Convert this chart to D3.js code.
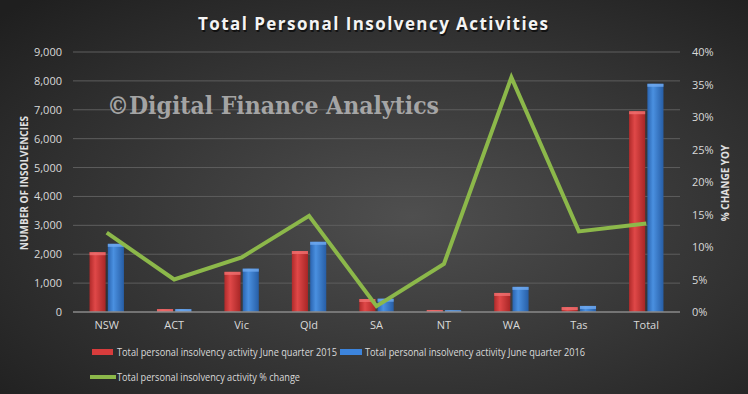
<!DOCTYPE html>
<html><head><meta charset="utf-8">
<script src="https://cdn.jsdelivr.net/npm/d3@7"></script>
<style>html,body{margin:0;padding:0;background:#2a2a2a;}svg{display:block;}</style>
</head><body>
<script>
const categories = ["NSW","ACT","Vic","Qld","SA","NT","WA","Tas","Total"];
const q2015 = [2070, 100, 1390, 2110, 450, 70, 660, 170, 6950];
const q2016 = [2360, 100, 1500, 2430, 460, 60, 870, 210, 7900];
const pctChange = [12.2, 5.0, 8.4, 14.8, 0.9, 7.4, 36.1, 12.4, 13.6];
const leftTicks = [0,1000,2000,3000,4000,5000,6000,7000,8000,9000];
const rightTicks = [0,5,10,15,20,25,30,35,40];
const seriesNames = ["Total personal insolvency activity June quarter 2015","Total personal insolvency activity June quarter 2016","Total personal insolvency activity % change"];

const W=748,H=394;
const svg=d3.select("body").append("svg").attr("width",W).attr("height",H);
const defs=svg.append("defs");
const bg=defs.append("radialGradient").attr("id","bg").attr("cx","55%").attr("cy","55%").attr("r","75%");
bg.append("stop").attr("offset","0%").attr("stop-color","#4f4f4f");
bg.append("stop").attr("offset","100%").attr("stop-color","#1f1f1f");
function barGrad(id,c1,c2,c3){
  const g=defs.append("linearGradient").attr("id",id).attr("x1","0").attr("x2","1").attr("y1","0").attr("y2","0");
  g.append("stop").attr("offset","0%").attr("stop-color",c1);
  g.append("stop").attr("offset","35%").attr("stop-color",c2);
  g.append("stop").attr("offset","100%").attr("stop-color",c3);
}
barGrad("gr","#b02a2a","#e04848","#a82626");
barGrad("gb","#2a64b0","#4a90e0","#275ea6");
svg.append("rect").attr("width",W).attr("height",H).attr("fill","url(#bg)");

const L=73,R=680,T=52,B=312;
const x0=d3.scaleBand().domain(categories).range([L,R]).paddingInner(0.49).paddingOuter(0.245);
const x1=d3.scaleBand().domain([0,1]).range([0,x0.bandwidth()]).paddingInner(0.12);
const yL=d3.scaleLinear().domain([0,9000]).range([B,T]);
const yR=d3.scaleLinear().domain([0,40]).range([B,T]);

// gridlines
svg.append("g").selectAll("line").data(leftTicks.slice(1)).join("line")
  .attr("x1",L).attr("x2",R).attr("y1",d=>yL(d)).attr("y2",d=>yL(d))
  .attr("stroke","#5e5e5e").attr("stroke-width",1);

// watermark
svg.append("text").attr("x",107).attr("y",114).text("©Digital Finance Analytics")
  .attr("font-family","DejaVu Serif").attr("font-weight","bold").attr("font-size",24)
  .attr("fill","#b4b4b4").attr("fill-opacity",0.88).attr("textLength",332).attr("lengthAdjust","spacingAndGlyphs");

// bars
const series=[{v:q2015,f:"url(#gr)",top:"#f07070"},{v:q2016,f:"url(#gb)",top:"#70aaf0"}];
series.forEach((s,si)=>{
  const g=svg.append("g");
  g.selectAll("rect.b").data(categories).join("rect").attr("class","b")
    .attr("x",(c)=>x0(c)+x1(si)).attr("width",x1.bandwidth())
    .attr("y",(c,i)=>yL(s.v[i])).attr("height",(c,i)=>B-yL(s.v[i]))
    .attr("fill",s.f);
  g.selectAll("rect.t").data(categories).join("rect").attr("class","t")
    .attr("x",(c)=>x0(c)+x1(si)).attr("width",x1.bandwidth())
    .attr("y",(c,i)=>yL(s.v[i])).attr("height",(c,i)=>Math.min(3,B-yL(s.v[i])))
    .attr("fill",s.top).attr("opacity",0.8);
});

// axis base line
svg.append("line").attr("x1",L).attr("x2",R).attr("y1",B).attr("y2",B).attr("stroke","#8a8a8a").attr("stroke-width",1.5);

// line series
const line=d3.line().x((d,i)=>x0(categories[i])+x0.bandwidth()/2).y(d=>yR(d));
svg.append("path").datum(pctChange).attr("d",line).attr("fill","none")
  .attr("stroke","#8cb84a").attr("stroke-width",4).attr("stroke-linejoin","miter");

// axes
const font="'Open Sans', sans-serif";
const axL=svg.append("g").attr("transform",`translate(${L},0)`)
  .call(d3.axisLeft(yL).tickValues(leftTicks).tickFormat(d3.format(",")).tickSize(0).tickPadding(11));
const axR=svg.append("g").attr("transform",`translate(${R},0)`)
  .call(d3.axisRight(yR).tickValues(rightTicks).tickFormat(d=>d+"%").tickSize(0).tickPadding(12));
const axB=svg.append("g").attr("transform",`translate(0,${B})`)
  .call(d3.axisBottom(x0).tickSize(0).tickPadding(9));
[axL,axR,axB].forEach(a=>{
  a.select(".domain").remove();
  a.selectAll("text").attr("font-family",font).attr("font-size",11).attr("fill","#d9d9d9");
});

// title
const titleText="Total Personal Insolvency Activities";
[["#000",0.6,"translate(1,1.5)"],["#f4f4f4",1,null]].forEach(([c,o,t])=>{
  const tt=svg.append("text").attr("x",198).attr("y",30)
    .attr("font-family",font).attr("font-weight","bold").attr("font-size",17)
    .attr("fill",c).attr("opacity",o).attr("textLength",350).attr("lengthAdjust","spacing")
    .text(titleText);
  if(t) tt.attr("transform",t);
});

// axis titles
svg.append("text").attr("transform","translate(28,183) rotate(-90)").attr("text-anchor","middle")
  .attr("font-family",font).attr("font-weight","bold").attr("font-size",10).attr("fill","#e0e0e0")
  .text("NUMBER OF INSOLVENCIES");
svg.append("text").attr("transform","translate(729,183) rotate(-90)").attr("text-anchor","middle")
  .attr("font-family",font).attr("font-weight","bold").attr("font-size",10).attr("fill","#e0e0e0")
  .text("% CHANGE YOY");

// legend
const lg=svg.append("g");
const items=[
  {sx:92,sw:21,tx:117,tl:220,y:352,c:"#d83c3c",n:seriesNames[0],h:6},
  {sx:340,sw:22,tx:365,tl:220,y:352,c:"#3c84dc",n:seriesNames[1],h:6},
  {sx:90,sw:26,tx:117,tl:183,y:377,c:"#8cb84a",n:seriesNames[2],h:4}];
items.forEach(it=>{
  lg.append("rect").attr("x",it.sx).attr("y",it.y-it.h/2).attr("width",it.sw).attr("height",it.h).attr("fill",it.c);
  lg.append("text").attr("x",it.tx).attr("y",it.y+4).attr("font-family",font).attr("font-size",11)
    .attr("fill","#d9d9d9").attr("textLength",it.tl).attr("lengthAdjust","spacingAndGlyphs").text(it.n);
});
</script>
</body></html>
